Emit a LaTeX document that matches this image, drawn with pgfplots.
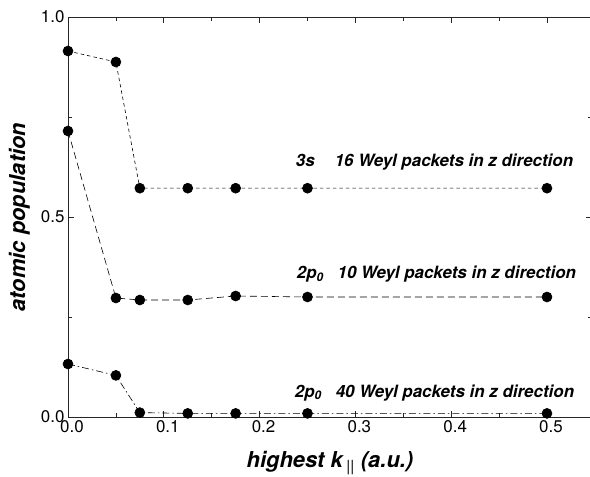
\documentclass[border=0pt]{standalone}
\usepackage{fontspec}
\setmainfont{TeX Gyre Heros}
\usepackage{pgfplots}
\pgfplotsset{compat=1.18}
\begin{document}
\begin{tikzpicture}
\begin{axis}[
  at={(0,0)}, anchor=south west,
  scale only axis, width=524bp, height=400bp,
  xmin=0, xmax=0.547, ymin=0, ymax=1,
  xtick={0,0.1,0.2,0.3,0.4,0.5},
  minor xtick={0.05,0.15,0.25,0.35,0.45},
  ytick={0,0.5,1}, minor ytick={0.25,0.75},
  tick align=inside, major tick length=6bp, minor tick length=4bp,
  axis line style={line width=0.7pt, black!85},
  tick style={line width=0.6pt, black!85},
  /pgf/number format/assume math mode=true,
  ticklabel style={font=\fontsize{17}{17}\selectfont},
  xticklabel style={xshift=4bp, /pgf/number format/.cd, fixed, fixed zerofill, precision=1},
  yticklabel style={/pgf/number format/.cd, fixed, fixed zerofill, precision=1},
  xlabel={highest k\,\textsubscript{\mdseries ||} (a.u.)},
  ylabel={atomic population},
  label style={font=\fontsize{22}{22}\selectfont\bfseries\itshape},
  xlabel style={at={(axis description cs:0.5,0)}, anchor=center, yshift=-46bp},
  ylabel style={at={([xshift=-48.5bp]axis description cs:0,0.5)}, anchor=center},
]
\addplot[black, line width=0.6pt, dash pattern=on 3.5bp off 3bp,
  mark=*, mark size=5bp, mark options={solid, fill=black, draw=black}]
  coordinates {(0,0.915) (0.05,0.8875) (0.075,0.572) (0.125,0.572) (0.175,0.572) (0.25,0.572) (0.5,0.572)};
\addplot[black, line width=0.6pt, dash pattern=on 7bp off 4bp,
  mark=*, mark size=5bp, mark options={solid, fill=black, draw=black}]
  coordinates {(0,0.715) (0.05,0.2975) (0.075,0.2925) (0.125,0.2925) (0.175,0.3025) (0.25,0.300) (0.5,0.300)};
\addplot[black, line width=0.6pt, dash pattern=on 7bp off 3bp on 1.5bp off 3bp,
  mark=*, mark size=5bp, mark options={solid, fill=black, draw=black}]
  coordinates {(0,0.1325) (0.05,0.104) (0.075,0.011) (0.125,0.009) (0.175,0.009) (0.25,0.009) (0.5,0.009)};
\node[anchor=base east, font=\fontsize{17}{17}\selectfont\bfseries\itshape]
  at (axis cs:0.531,0.625) {3s\hspace{20bp}16 Weyl packets in z direction};
\node[anchor=base east, font=\fontsize{17}{17}\selectfont\bfseries\itshape]
  at (axis cs:0.534,0.345) {2p\textsubscript{0}\hspace{14bp}10 Weyl packets in z direction};
\node[anchor=base east, font=\fontsize{17}{17}\selectfont\bfseries\itshape]
  at (axis cs:0.532,0.05) {2p\textsubscript{0}\hspace{14bp}40 Weyl packets in z direction};
\end{axis}
\pgfresetboundingbox
\useasboundingbox (-68bp,-60bp) rectangle (522bp,417bp);
\end{tikzpicture}
\end{document}
